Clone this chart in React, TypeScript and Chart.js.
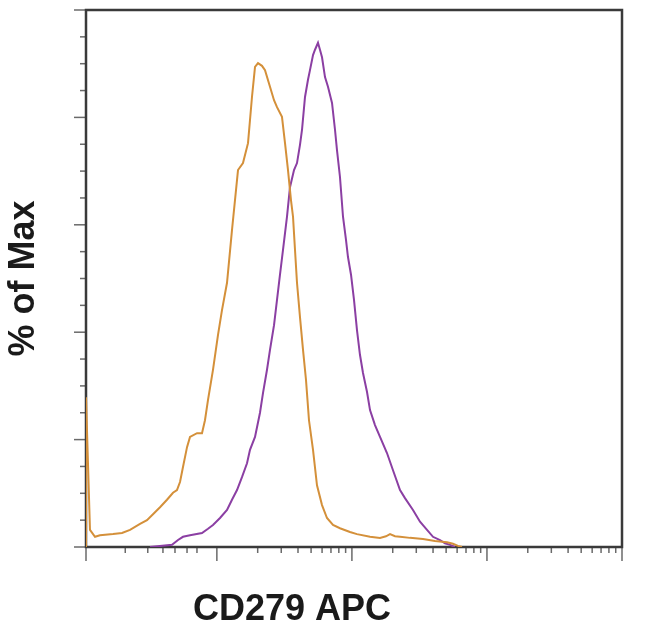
import React, { useEffect, useRef } from "react";
import { Chart, registerables } from "chart.js";

Chart.register(...registerables);

// Display channel (0..1024, biexponential axis) and % of Max
const isoX = [0, 0, 7.6, 17.2, 26.7, 51.6, 68.8, 84.1, 103.2, 116.5, 128, 141.4, 154.7, 166.2, 173.8, 179.6, 185.3, 193, 198.7, 212.1, 221.6, 227.3, 233.1, 242.6, 252.2, 259.8, 269.4, 278.9, 290.4, 299.9, 309.5, 317.1, 322.9, 328.6, 336.2, 342, 351.5, 359.2, 364.9, 374.4, 380.2, 385.9, 391.6, 395.5, 399.3, 403.1, 408.8, 414.6, 420.3, 426.0, 433.7, 441.3, 450.9, 460.4, 471.9, 485.2, 504.3, 517.7, 542.6, 561.7, 573.1, 580.8, 590.3, 599.9, 619.0, 643.8, 666.7, 689.7, 701.1, 710.7, 718.3];
const isoY = [0, 27.9, 3.2, 1.9, 2.2, 2.4, 2.6, 3.2, 4.3, 5.0, 6.1, 7.4, 8.8, 10.1, 10.6, 12.1, 14.9, 18.6, 20.5, 21.2, 21.2, 23.6, 27.4, 33.0, 39.5, 44.1, 49.2, 59.0, 70.2, 71.5, 75.2, 83.8, 89.4, 90.1, 89.6, 88.8, 85.7, 83.2, 81.9, 80.1, 75.2, 70.2, 64.6, 61.5, 55.3, 49.2, 42.8, 36.7, 31.1, 23.6, 18.1, 11.5, 7.8, 5.4, 4.1, 3.5, 2.8, 2.4, 1.9, 1.7, 2.0, 2.4, 2.0, 1.9, 1.7, 1.5, 1.1, 0.9, 0.6, 0.2, 0];

const pd1X = [122.3, 164.3, 175.8, 185.3, 198.7, 221.6, 233.1, 242.6, 256, 269.4, 278.9, 288.5, 298.0, 307.6, 313.3, 322.9, 332.4, 338.2, 345.8, 351.5, 359.2, 364.9, 370.6, 376.3, 384.0, 389.7, 397.4, 403.1, 408.8, 412.7, 418.4, 424.1, 427.9, 433.7, 437.5, 443.2, 447.0, 450.9, 456.6, 462.3, 470.0, 475.7, 479.5, 485.2, 491.0, 496.7, 500.5, 506.3, 512.0, 517.7, 523.4, 529.2, 536.8, 542.6, 552.1, 561.7, 575.0, 586.5, 599.9, 609.4, 624.7, 638.1, 651.5, 662.9, 676.3, 685.8, 695.4, 704.9];
const pd1Y = [0, 0.4, 1.3, 1.9, 2.2, 2.6, 3.4, 4.1, 5.4, 6.9, 8.8, 10.6, 13.0, 15.6, 18.1, 20.5, 25.0, 28.7, 33.0, 36.7, 41.3, 46.0, 50.7, 55.3, 61.5, 67.0, 70.2, 71.5, 74.9, 77.7, 83.8, 87.0, 88.8, 91.6, 92.6, 93.9, 92.6, 91.2, 87.5, 85.7, 82.7, 77.7, 73.9, 68.9, 61.5, 57.2, 54.0, 50.7, 46.0, 40.4, 35.8, 32.4, 28.9, 25.5, 22.7, 20.5, 17.5, 14.3, 10.6, 9.1, 6.9, 4.7, 3.2, 1.9, 1.3, 0.7, 0.4, 0];

const yMajorTicks = [0, 20, 40, 60, 80, 100];
const yMinorTicks = [5, 10, 15, 25, 30, 35, 45, 50, 55, 65, 70, 75, 85, 90, 95];
const xMajorTicks = [0, 250, 508, 766, 1024];
const xMinorTicks = [75, 118, 147, 170, 193, 212, 328, 373, 405, 430, 451, 468, 483, 496, 586, 631, 663, 688, 709, 726, 741, 754, 844, 889, 921, 946, 967, 984, 999, 1012];

const xTitle = "CD279 APC";
const yTitle = "% of Max";

const FONT = "'Liberation Sans', Arial, Helvetica, sans-serif";

const framePlugin = {
  id: "frame",
  beforeDatasetsDraw(chart: any) {
    const { ctx, chartArea: a, scales } = chart;
    const x = scales.x;
    const y = scales.y;
    ctx.save();
    // tick marks
    ctx.strokeStyle = "#6a6a6a";
    ctx.lineWidth = 1.5;
    const line = (x1: number, y1: number, x2: number, y2: number) => {
      ctx.beginPath();
      ctx.moveTo(x1, y1);
      ctx.lineTo(x2, y2);
      ctx.stroke();
    };
    yMajorTicks.forEach((v) => {
      const p = y.getPixelForValue(v);
      line(a.left - 12, p, a.left, p);
    });
    yMinorTicks.forEach((v) => {
      const p = y.getPixelForValue(v);
      line(a.left - 6, p, a.left, p);
    });
    xMajorTicks.forEach((v) => {
      const p = x.getPixelForValue(v);
      line(p, a.bottom, p, a.bottom + 14);
    });
    xMinorTicks.forEach((v) => {
      const p = x.getPixelForValue(v);
      line(p, a.bottom, p, a.bottom + 6);
    });
    // frame
    ctx.strokeStyle = "#3a3a3a";
    ctx.lineWidth = 2.5;
    ctx.strokeRect(a.left, a.top, a.right - a.left, a.bottom - a.top);
    ctx.restore();
  },
  afterDraw(chart: any) {
    const { ctx, chartArea: a } = chart;
    ctx.save();
    ctx.font = `bold 36px ${FONT}`;
    ctx.fillStyle = "#1a1a1a";
    ctx.textAlign = "center";
    ctx.textBaseline = "alphabetic";
    ctx.fillText(xTitle, a.left + 206, a.bottom + 73);
    ctx.restore();
  },
};

export default function App() {
  const ref = useRef<HTMLCanvasElement | null>(null);

  useEffect(() => {
    if (!ref.current) return;
    const chart = new Chart(ref.current, {
      type: "line",
      data: {
        datasets: [
          {
            label: "Isotype",
            data: isoX.map((x, i) => ({ x, y: isoY[i] })),
            borderColor: "#d4903a",
            borderWidth: 2,
            pointRadius: 0,
            tension: 0,
            fill: false,
          },
          {
            label: "CD279",
            data: pd1X.map((x, i) => ({ x, y: pd1Y[i] })),
            borderColor: "#8b3fa3",
            borderWidth: 2,
            pointRadius: 0,
            tension: 0,
            fill: false,
          },
        ],
      },
      options: {
        responsive: false,
        animation: false,
        events: [],
        layout: { padding: { left: 2, top: 10, right: 28, bottom: 83 } },
        plugins: {
          legend: { display: false },
          tooltip: { enabled: false },
        },
        scales: {
          x: {
            type: "linear",
            min: 0,
            max: 1024,
            grid: { display: false, drawTicks: false },
            border: { display: false },
            ticks: { display: false },
          },
          y: {
            type: "linear",
            min: 0,
            max: 100,
            grid: { display: false, drawTicks: false },
            border: { display: false },
            ticks: { display: false },
            title: {
              display: true,
              text: yTitle,
              color: "#1a1a1a",
              font: { family: FONT, size: 36, weight: "bold", lineHeight: 1.2 },
              padding: { top: 0, bottom: 40.8 },
            },
          },
        },
      },
      plugins: [framePlugin],
    });
    return () => chart.destroy();
  }, []);

  return (
    <div style={{ position: "fixed", left: 0, top: 0, width: 650, height: 630, background: "#fff" }}>
      <canvas ref={ref} width={650} height={630} style={{ display: "block" }} />
    </div>
  );
}
